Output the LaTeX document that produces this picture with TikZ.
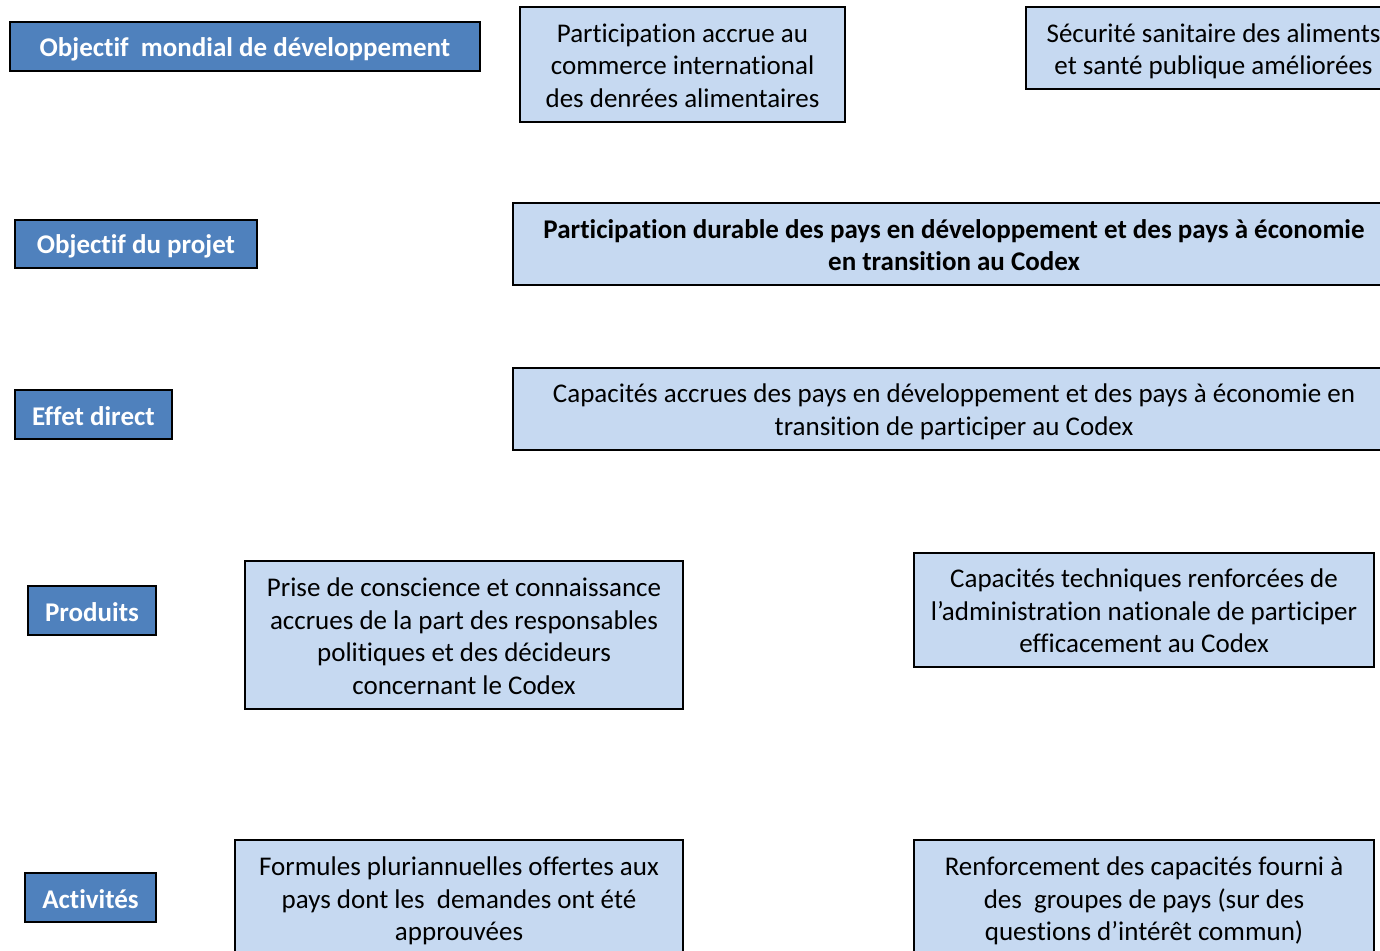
\documentclass[tikz,border=0pt]{standalone}
\usepackage{fontspec}
\setmainfont{Carlito}[Ligatures=NoCommon]
\definecolor{darkfill}{HTML}{4F81BD}
\definecolor{lightfill}{HTML}{C6D9F1}
\tikzset{
  lab/.style={draw=black, line width=1.6pt, fill=darkfill, inner sep=0pt},
  box/.style={draw=black, line width=1.6pt, fill=lightfill, inner sep=0pt},
  labtext/.style={text=white, inner sep=0pt, font=\fontsize{27}{32}\selectfont\bfseries, align=center},
  boxtext/.style={text=black, inner sep=0pt, font=\fontsize{27}{32.5}\selectfont, align=center},
  boldtext/.style={boxtext, font=\fontsize{27}{32.5}\selectfont\bfseries},
}
\begin{document}
\begin{tikzpicture}[x=1pt,y=-1pt]
\useasboundingbox (0,0) rectangle (1380,950);
\clip (0,0) rectangle (1380,950);
\node[lab, minimum width=470pt, minimum height=49pt] (g1) at (245,46.5) {};
\node[labtext] (g1t) at ([yshift=-3pt]g1.center) {Objectif\ \ mondial de développement};
\node[box, minimum width=325pt, minimum height=115pt] (b1) at (682.5,64.5) {};
\node[boxtext] (b1t) at ([yshift=-1pt]b1.center) {Participation accrue au\\commerce international\\des denrées alimentaires};
\node[box, minimum width=369pt, minimum height=82pt] (b2) at (1210.5,48) {};
\node[boxtext] (b2t) at ([xshift=3pt,yshift=-3.5pt]b2.center) {Sécurité sanitaire des aliments\\et santé publique améliorées};
\node[lab, minimum width=242pt, minimum height=48pt] (l2) at (136,244) {};
\node[labtext] (l2t) at ([yshift=-2.5pt]l2.center) {Objectif du projet};
\node[box, minimum width=882pt, minimum height=82pt] (b3) at (954,244) {};
\node[boldtext] (b3t) at ([yshift=-1pt]b3.center) {Participation durable des pays en développement et des pays à économie\\en transition au Codex};
\node[lab, minimum width=157pt, minimum height=49pt] (l3) at (93.5,414.5) {};
\node[labtext] (l3t) at ([yshift=-1.5pt]l3.center) {Effet direct};
\node[box, minimum width=882pt, minimum height=82pt] (b4) at (954,409) {};
\node[boxtext] (b4t) at ([yshift=-3pt]b4.center) {Capacités accrues des pays en développement et des pays à économie en\\transition de participer au Codex};
\node[lab, minimum width=128pt, minimum height=49pt] (l4) at (92,610.5) {};
\node[labtext] (l4t) at ([yshift=-1.5pt]l4.center) {Produits};
\node[box, minimum width=438pt, minimum height=148pt] (b5) at (464,635) {};
\node[boxtext] (b5t) at ([yshift=-1pt]b5.center) {Prise de conscience et connaissance\\accrues de la part des responsables\\politiques et des décideurs\\concernant le Codex};
\node[box, minimum width=460pt, minimum height=114pt] (b6) at (1144,610) {};
\node[boxtext] (b6t) at ([yshift=-1pt]b6.center) {Capacités techniques renforcées de\\l’administration nationale de participer\\efficacement au Codex};
\node[lab, minimum width=131pt, minimum height=49pt] (l5) at (90.5,897.5) {};
\node[labtext] (l5t) at ([yshift=-1.5pt]l5.center) {Activités};
\node[box, minimum width=448pt, minimum height=116pt] (b7) at (459,898) {};
\node[boxtext] (b7t) at ([yshift=-3pt]b7.center) {Formules pluriannuelles offertes aux\\pays dont les\ \ demandes ont été\\approuvées};
\node[box, minimum width=460pt, minimum height=116pt] (b8) at (1144,898) {};
\node[boxtext] (b8t) at ([yshift=-3pt]b8.center) {Renforcement des capacités fourni à\\des\ \ groupes de pays (sur des\\questions d’intérêt commun)};
\end{tikzpicture}
\end{document}
